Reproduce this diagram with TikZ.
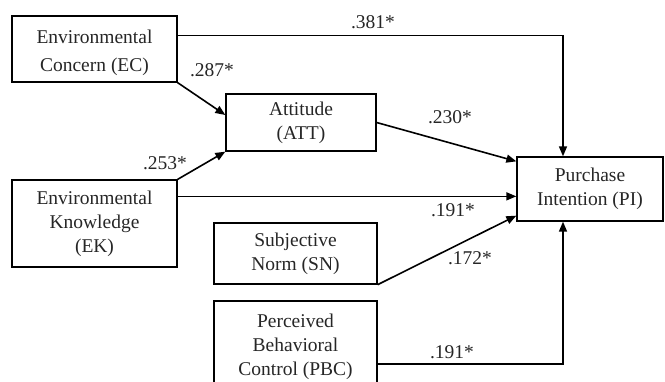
\documentclass[tikz,border=0pt]{standalone}
\usepackage{fontspec}
\setmainfont{Liberation Serif}
\usetikzlibrary{arrows.meta}
\begin{document}
\begin{tikzpicture}[x=1pt,y=-1pt,
  box/.style={draw, line width=1.3pt, inner sep=0pt, align=center,
    font=\fontsize{19.5}{24}\selectfont, text=black!85},
  coef/.style={inner sep=0pt, font=\fontsize{19.5}{22}\selectfont, text=black!85},
  link/.style={line width=1.6pt, -{Triangle[length=10pt,width=8pt]}}]
\useasboundingbox (0,0) rectangle (665,381);

% constructs
\node[box, minimum width=165pt, minimum height=66pt] (EC) at (94.5,49)
  {\rule{0pt}{21.5pt}Environmental\\[4pt]Concern (EC)};
\node[box, minimum width=150pt, minimum height=57pt] (ATT) at (301,122.5)
  {Attitude\\(ATT)};
\node[box, minimum width=165pt, minimum height=87pt] (EK) at (94.5,223.5)
  {Environmental\\Knowledge\\(EK)};
\node[box, minimum width=146pt, minimum height=64pt] (PI) at (590,189)
  {Purchase\\Intention (PI)};
\node[box, minimum width=163pt, minimum height=61pt] (SN) at (295.5,253.5)
  {Subjective\\Norm (SN)};
\node[box, minimum width=163pt, minimum height=91pt] (PBC) at (295.5,346.5)
  {Perceived\\Behavioral\\Control (PBC)};

% connector end points
\coordinate (ecout) at ([yshift=-20pt]EC.north east);
\coordinate (ekout) at ([yshift=-17pt]EK.north east);
\coordinate (pbcout) at ([yshift=-17.5pt]PBC.east);
\coordinate (pitop) at ([xshift=-27pt]PI.north);
\coordinate (pibot) at ([xshift=-27pt]PI.south);

% paths
\draw[link] (ecout) -| (pitop);
\draw[link] (EC.south east) -- ([yshift=7.5pt]ATT.west);
\draw[link] (EK.north east) -- (ATT.south west);
\draw[link] (ATT.east) -- ([yshift=-5pt]PI.north west);
\draw[link] (ekout) -- (ekout -| PI.west);
\draw[link] (SN.south east) -- ([yshift=6pt]PI.south west);
\draw[link] (pbcout) -| (pibot);

% path coefficients
\node[coef] (c1) at (373,22) {.381*};
\node[coef] (c2) at (212,70) {.287*};
\node[coef] (c3) at (450,117) {.230*};
\node[coef] (c4) at (165,163) {.253*};
\node[coef] (c5) at (453,210) {.191*};
\node[coef] (c6) at (470,258) {.172*};
\node[coef] (c7) at (452,352) {.191*};
\end{tikzpicture}
\end{document}
